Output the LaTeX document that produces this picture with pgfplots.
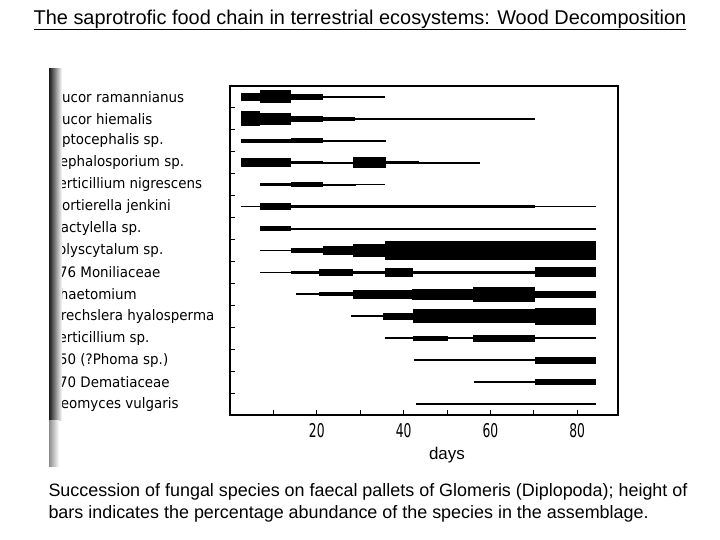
\documentclass[border=0pt]{standalone}
\usepackage{pgfplots}
\pgfplotsset{compat=1.18}
\usepackage{fontspec}
\setmainfont{Liberation Sans}
\newfontfamily\labfont[FakeStretch=0.93]{DejaVu Sans}
\newfontfamily\tickfont[FakeStretch=0.65]{DejaVu Sans}

% one bar segment: from day #1 to day #2, on row #3, thickness #4 (bp)
\newcommand{\seg}[4]{\addplot[black, line width=#4bp, forget plot] coordinates {(#1,#3) (#2,#3)};}

\begin{document}
\begin{tikzpicture}
\path[use as bounding box] (0bp,0bp) rectangle (720bp,-540bp);

\node[anchor=base, font=\fontsize{20}{24}\selectfont] at (360bp,-24bp)
  {\underline{The saprotrofic food chain in terrestrial ecosystems: Wood Decomposition}};

\begin{axis}[
  at={(230bp,-415bp)}, anchor=south west,
  scale only axis, width=388bp, height=329bp,
  xmin=0, xmax=89.4, ymin=0.5, ymax=15.5, y dir=reverse,
  axis line style={line width=1.5bp},
  tick align=inside, tick pos=left,
  major tick length=5bp,
  tick style={black, line width=1bp},
  xtick={10,20,...,80},
  xticklabels={,20,,40,,60,,80},
  xticklabel style={font=\tickfont\fontsize{19}{20}\selectfont, yshift=-5bp},
  ytick={1.5,2.5,...,14.5},
  yticklabels={},
  extra y ticks={1,2,...,15},
  extra y tick labels={Mucor ramannianus, Mucor hiemalis, Piptocephalis sp., Cephalosporium sp.,
    Verticillium nigrescens, Mortierella jenkini, Dactylella sp., Polyscytalum sp.,
    176 Moniliaceae, Chaetomium, Drechslera hyalosperma, Verticillium sp.,
    150 (?Phoma sp.), 170 Dematiaceae, Geomyces vulgaris},
  extra y tick style={major tick length=0pt,
    yticklabel style={anchor=west, xshift=-183bp, font=\labfont\fontsize{14.5}{16}\selectfont}},
  xlabel={days},
  xlabel style={font=\fontsize{17}{19}\selectfont, at={(ticklabel cs:0.559)}, anchor=north, yshift=-3bp},
]
% Mucor ramannianus
\seg{2.5}{7}{1}{8.7}
\seg{7}{14}{1}{13}
\seg{14}{21.4}{1}{6.7}
\seg{21.4}{35.6}{1}{1.7}
% Mucor hiemalis
\seg{2.5}{7}{2}{15}
\seg{7}{14}{2}{12}
\seg{14}{21.4}{2}{6.7}
\seg{21.4}{28.9}{2}{4}
\seg{28.9}{70.2}{2}{1.7}
% Piptocephalis sp.
\seg{2.5}{14}{3}{4}
\seg{14}{21.4}{3}{5}
\seg{21.4}{36}{3}{1.5}
% Cephalosporium sp.
\seg{2.5}{14}{4}{9}
\seg{14}{21.4}{4}{3}
\seg{21.4}{28.3}{4}{1.5}
\seg{28.3}{36}{4}{11}
\seg{36}{43.6}{4}{3.3}
\seg{43.6}{57.5}{4}{1.5}
% Verticillium nigrescens
\seg{7}{14}{5}{3.3}
\seg{14}{21.4}{5}{5}
\seg{21.4}{29}{5}{2.3}
\seg{29}{35.6}{5}{1.3}
% Mortierella jenkini
\seg{2.5}{7}{6}{1.5}
\seg{7}{14}{6}{7}
\seg{14}{70.2}{6}{3.3}
\seg{70.2}{84.4}{6}{1.4}
% Dactylella sp.
\seg{7}{14}{7}{5.3}
\seg{14}{84.4}{7}{2}
% Polyscytalum sp.
\seg{7}{14}{8}{1.5}
\seg{14}{21.4}{8}{5}
\seg{21.4}{28.3}{8}{9}
\seg{28.3}{35.6}{8}{12.7}
\seg{35.6}{84.4}{8}{18.3}
% 176 Moniliaceae
\seg{7}{14}{9}{1.6}
\seg{14}{20.4}{9}{3}
\seg{20.4}{28.3}{9}{7.3}
\seg{28.3}{35.6}{9}{3.3}
\seg{35.6}{42.2}{9}{9.7}
\seg{42.2}{70.2}{9}{3.3}
\seg{70.2}{84.4}{9}{10}
% Chaetomium
\seg{15.2}{20.4}{10}{2}
\seg{20.4}{28.3}{10}{4}
\seg{28.3}{42}{10}{8.3}
\seg{42}{56}{10}{10.5}
\seg{56}{70.2}{10}{14.5}
\seg{70.2}{84.4}{10}{7}
% Drechslera hyalosperma
\seg{27.9}{35.3}{11}{2}
\seg{35.3}{42.2}{11}{7.3}
\seg{42.2}{70.2}{11}{14}
\seg{70.2}{84.4}{11}{16.5}
% Verticillium sp.
\seg{35.6}{42.2}{12}{1.5}
\seg{42.2}{50.2}{12}{5.3}
\seg{50.2}{56}{12}{2.3}
\seg{56}{70.2}{12}{6.7}
\seg{70.2}{84.4}{12}{1.7}
% 150 (?Phoma sp.)
\seg{42.5}{70.2}{13}{1.7}
\seg{70.2}{84.4}{13}{7.3}
% 170 Dematiaceae
\seg{56.2}{67.7}{14}{1.3}
\seg{67.7}{70.2}{14}{2.5}
\seg{70.2}{84.4}{14}{5.7}
% Geomyces vulgaris
\seg{42.9}{50.5}{15}{1.3}
\seg{50.5}{59.4}{15}{2.3}
\seg{59.4}{67.8}{15}{1.5}
\seg{67.8}{80.2}{15}{2.7}
\seg{80.2}{84.4}{15}{1.3}
\end{axis}

% dark scan edge over the start of the labels
\shade[left color=black!90, right color=white] (49bp,-68bp) rectangle (62bp,-420bp);
\shade[left color=black!45, right color=white] (49bp,-420bp) rectangle (59bp,-466bp);

\node[anchor=base west, font=\fontsize{18}{21}\selectfont] at (45bp,-496bp)
  {Succession of fungal species on faecal pallets of Glomeris (Diplopoda); height of};
\node[anchor=base west, font=\fontsize{18}{21}\selectfont] at (45bp,-518bp)
  {bars indicates the percentage abundance of the species in the assemblage.};
\end{tikzpicture}
\end{document}
